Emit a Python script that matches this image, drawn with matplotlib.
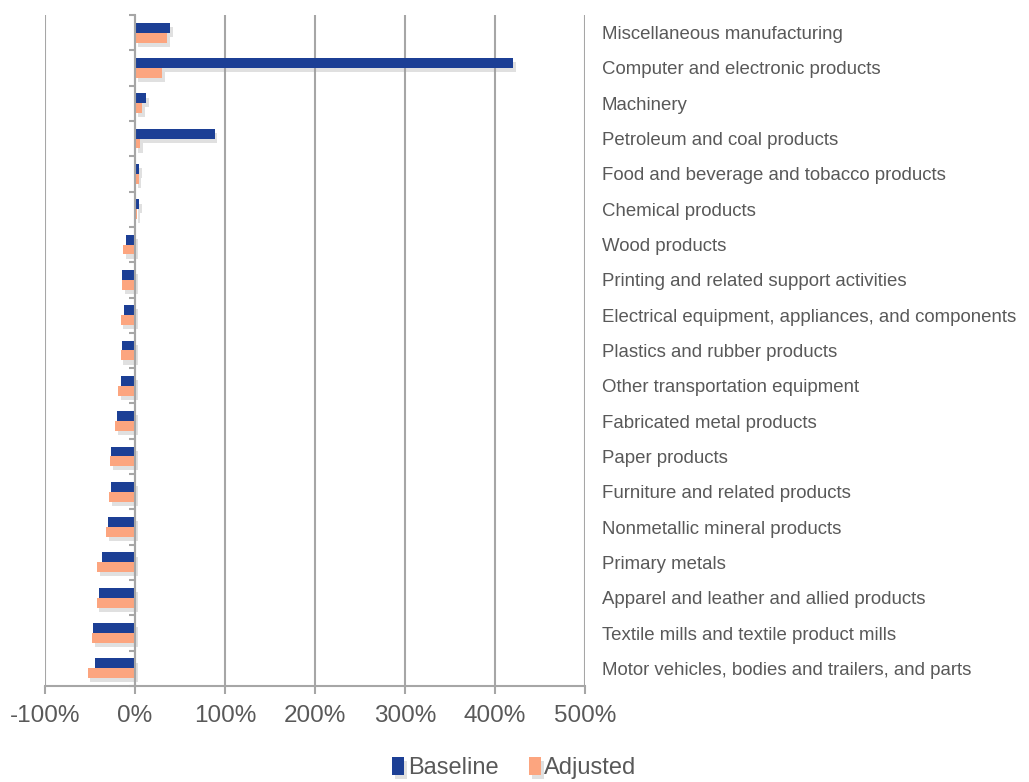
import numpy as np
import matplotlib.pyplot as plt
import matplotlib.patheffects as pe
from matplotlib.ticker import FuncFormatter

plt.rcParams['font.family'] = ['Liberation Sans', 'DejaVu Sans']

# categories, top to bottom
categories = [
    "Miscellaneous manufacturing",
    "Computer and electronic products",
    "Machinery",
    "Petroleum and coal products",
    "Food and beverage and tobacco products",
    "Chemical products",
    "Wood products",
    "Printing and related support activities",
    "Electrical equipment, appliances, and components",
    "Plastics and rubber products",
    "Other transportation equipment",
    "Fabricated metal products",
    "Paper products",
    "Furniture and related products",
    "Nonmetallic mineral products",
    "Primary metals",
    "Apparel and leather and allied products",
    "Textile mills and textile product mills",
    "Motor vehicles, bodies and trailers, and parts",
]
# percent change
baseline = [39, 420, 12, 88.5, 5, 4.5, -9.6, -14, -12, -14.4, -16, -20,
            -26.7, -26.7, -30.4, -36.3, -40.4, -47, -44.8]
adjusted = [36, 30, 8, 6, 4, 2, -13, -14.4, -16, -16, -18.5, -22,
            -27.4, -28.5, -31.8, -41.8, -42.6, -47.4, -52.6]

grey = '#595959'
fig = plt.figure(figsize=(10.29, 7.82), dpi=100)
ax = fig.add_axes([0.0437, 0.1228, 0.5248, 0.858])

y = np.arange(len(categories))[::-1]
h = 0.28
shadow = [pe.SimplePatchShadow(offset=(2, -3), shadow_rgbFace='#999999', alpha=0.3), pe.Normal()]
ax.barh(y + h / 2, baseline, height=h, color='#1C3F95', label='Baseline',
        path_effects=shadow, zorder=3)
ax.barh(y - h / 2, adjusted, height=h, color='#FCA57F', label='Adjusted',
        path_effects=shadow, zorder=3)

ax.set_xlim(-100, 500)
ax.set_ylim(-0.5, len(categories) - 0.5)
ax.set_xticks(np.arange(-100, 501, 100))
ax.xaxis.set_major_formatter(FuncFormatter(lambda v, p: f"{v:.0f}%"))
ax.grid(axis='x', color='#A6A6A6', linewidth=1.5, zorder=0)

# category labels on the right, boundary ticks on the 0% line
ax.set_yticks(y)
ax.set_yticklabels(categories)
ax.set_yticks(np.arange(len(categories) + 1) - 0.5, minor=True)
ax.spines['left'].set_position(('data', 0))
ax.spines['left'].set_color('#A6A6A6')
ax.spines['left'].set_linewidth(1.5)
ax.spines['left'].set_zorder(4)
ax.tick_params(axis='y', which='major', left=False, right=True, length=0,
               labelleft=False, labelright=True, pad=12, labelsize=13.4, labelcolor=grey)
ax.tick_params(axis='y', which='minor', left=True, right=False, length=4,
               width=1.5, color='#A6A6A6')
ax.spines['right'].set_visible(False)
ax.spines['top'].set_visible(False)
ax.spines['bottom'].set_color('#A6A6A6')
ax.spines['bottom'].set_linewidth(1.5)
ax.tick_params(axis='x', length=6, width=1.5, color='#A6A6A6', pad=8,
               labelsize=17.5, labelcolor=grey)

fig.legend(loc='center', bbox_to_anchor=(0.5, 0.018), ncol=2, frameon=False,
           fontsize=17, handlelength=0.5, handleheight=0.8, handletextpad=0.15,
           columnspacing=1.3, labelcolor=grey)

fig.savefig('out.png', dpi=100)
